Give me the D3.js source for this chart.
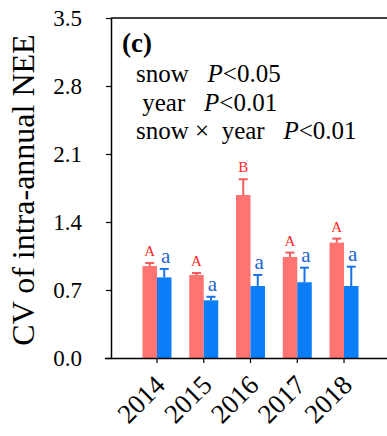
<!DOCTYPE html>
<html>
<head>
<meta charset="utf-8">
<script src="https://cdn.jsdelivr.net/npm/d3@7"></script>
<style>
  body { margin: 0; background: #fff; }
</style>
</head>
<body>
<svg width="387" height="436"></svg>
<script>
const years = ['2014', '2015', '2016', '2017', '2018']
const snowMean = [0.947, 0.855, 1.678, 1.040, 1.188]
const snowErr = [0.031, 0.020, 0.162, 0.045, 0.041]
const ctrlMean = [0.830, 0.594, 0.741, 0.780, 0.741]
const ctrlErr = [0.087, 0.036, 0.114, 0.150, 0.199]
const snowLetters = ['A', 'A', 'B', 'A', 'A']
const ctrlLetters = ['a', 'a', 'a', 'a', 'a']
const yTicks = [0, 0.7, 1.4, 2.1, 2.8, 3.5]
const statLines = [
  { name: 'snow', p: '<0.05' },
  { name: ' year', p: '<0.01' },
  { name: 'snow \u00d7  year', p: '<0.01' }
]

const FONT = "'Liberation Serif', 'Times New Roman', serif"

let svg = d3.select('svg')
let width = +svg.attr('width')
let height = +svg.attr('height')

let padLeft = 111, padTop = 18, padBottom = 358

let y = d3.scaleLinear().domain([0, 3.5]).range([padBottom, padTop])
let x = d3.scaleBand().domain(years).range([133.6, 367.4]).paddingInner(0)
let xs = d3.scaleBand().domain(['snow', 'ctrl'])
  .range([x.bandwidth() / 2 - 14.5, x.bandwidth() / 2 + 14.5])

let colors = { snow: '#ff7373', ctrl: '#0a7ef8' }
let errColors = { snow: '#f25c5c', ctrl: '#1a72e8' }
let letterColors = { snow: '#ff2626', ctrl: '#1c64d0' }

let rows = []
years.forEach(function(yr, i) {
  rows.push({ year: yr, key: 'snow', mean: snowMean[i], err: snowErr[i], letter: snowLetters[i] })
  rows.push({ year: yr, key: 'ctrl', mean: ctrlMean[i], err: ctrlErr[i], letter: ctrlLetters[i] })
})

// bars
svg.append('g')
  .selectAll('rect')
  .data(rows)
  .enter().append('rect')
    .attr('x', function(d) { return x(d.year) + xs(d.key) })
    .attr('y', function(d) { return y(d.mean) })
    .attr('width', xs.bandwidth())
    .attr('height', function(d) { return y(0) - y(d.mean) })
    .attr('fill', function(d) { return colors[d.key] })

// error bars
let eb = svg.append('g').selectAll('g')
  .data(rows)
  .enter().append('g')
    .attr('stroke', function(d) { return errColors[d.key] })
    .attr('stroke-width', 2)
eb.append('line')
  .attr('x1', function(d) { return x(d.year) + xs(d.key) + xs.bandwidth() / 2 })
  .attr('x2', function(d) { return x(d.year) + xs(d.key) + xs.bandwidth() / 2 })
  .attr('y1', function(d) { return y(d.mean) })
  .attr('y2', function(d) { return y(d.mean + d.err) })
eb.append('line')
  .attr('x1', function(d) { return x(d.year) + xs(d.key) + xs.bandwidth() / 2 - 4.5 })
  .attr('x2', function(d) { return x(d.year) + xs(d.key) + xs.bandwidth() / 2 + 4.5 })
  .attr('y1', function(d) { return y(d.mean + d.err) })
  .attr('y2', function(d) { return y(d.mean + d.err) })

// significance letters
svg.append('g')
  .selectAll('text')
  .data(rows)
  .enter().append('text')
    .attr('x', function(d) { return x(d.year) + xs(d.key) + xs.bandwidth() / 2 + (d.key === 'ctrl' ? 1.5 : 0) })
    .attr('y', function(d) { return y(d.mean + d.err) - (d.key === 'ctrl' ? 6 : 7) })
    .attr('text-anchor', 'middle')
    .style('font-family', FONT)
    .style('font-size', function(d) { return (d.key === 'ctrl' ? 21 : 15) + 'px' })
    .attr('fill', function(d) { return letterColors[d.key] })
    .text(function(d) { return d.letter })

// frame: top line runs off to the right
svg.append('line')
  .attr('x1', padLeft).attr('x2', width + 5)
  .attr('y1', padTop).attr('y2', padTop)
  .attr('stroke', '#000').attr('stroke-width', 1.5)

// y axis
let yAxis = svg.append('g')
  .attr('transform', 'translate(' + padLeft + ',0)')
  .call(d3.axisLeft(y).tickValues(yTicks).tickFormat(d3.format('.1f')).tickSize(5).tickSizeOuter(0))
yAxis.select('.domain').attr('stroke-width', 1.5)
yAxis.selectAll('.tick line').attr('stroke-width', 1.2)
yAxis.selectAll('text')
  .style('font-family', FONT)
  .style('font-size', '23px')
  .attr('x', -29)
  .attr('dy', '0.34em')

// x axis
let xAxis = svg.append('g')
  .attr('transform', 'translate(0,' + padBottom + ')')
  .call(d3.axisBottom(x).tickSize(5).tickSizeOuter(0))
xAxis.select('.domain').attr('d', 'M105,0.5H' + (width + 5)).attr('stroke-width', 1.5)
xAxis.selectAll('.tick line').attr('stroke-width', 1.2)
xAxis.selectAll('text')
  .style('font-family', FONT)
  .style('font-size', '27px')
  .attr('text-anchor', 'end')
  .attr('x', 0).attr('y', 0).attr('dy', '0.35em')
  .attr('transform', 'translate(3,22) rotate(-45)')

// y axis label
svg.append('text')
  .attr('transform', 'translate(34,190) rotate(-90)')
  .attr('text-anchor', 'middle')
  .style('font-family', FONT)
  .style('font-size', '32px')
  .attr('fill', '#000')
  .text('CV of intra-annual NEE')

// panel tag
svg.append('text')
  .attr('x', 122).attr('y', 52)
  .style('font-family', FONT)
  .style('font-size', '27px')
  .style('font-weight', 700)
  .text('(c)')

// stats text
let st = svg.append('g').selectAll('text')
  .data(statLines)
  .enter().append('text')
    .attr('x', 136)
    .attr('y', function(d, i) { return 82 + i * 28.5 })
    .style('font-family', FONT)
    .style('font-size', '25px')
    .style('white-space', 'pre')
st.append('tspan').text(function(d) { return d.name + '   ' })
st.append('tspan').style('font-style', 'italic').text('P')
st.append('tspan').text(function(d) { return d.p })
</script>
</body>
</html>
